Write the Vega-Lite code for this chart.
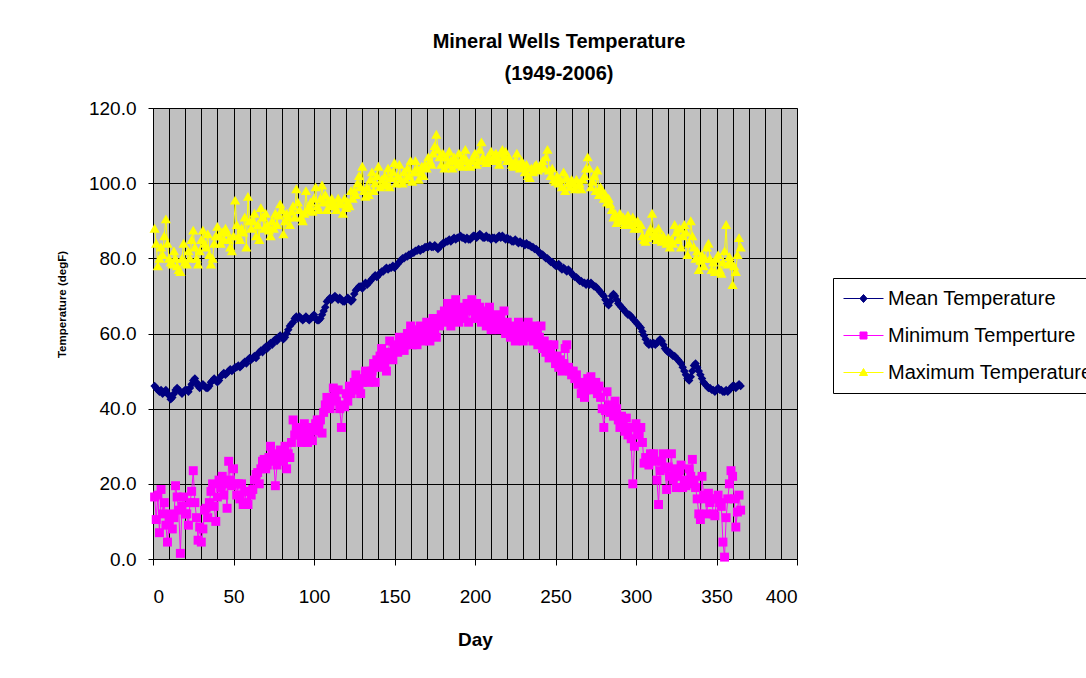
{
"$schema": "https://vega.github.io/schema/vega-lite/v6.json",
"width": 644, "height": 451,
"autosize": {"type": "none"},
"padding": {"left": 153, "top": 108, "right": 289, "bottom": 119},
"background": "white",
"title": {"text": ["Mineral Wells Temperature", "(1949-2006)"], "font": "Liberation Sans", "fontSize": 20, "fontWeight": "bold", "lineHeight": 32, "anchor": "middle", "offset": 15, "dx": 84, "color": "black"},
"data": {"values": [
{"d":1,"a":46,"n":16.5,"x":88},{"d":2,"a":45.5,"n":10.5,"x":84},{"d":3,"a":45,"n":17,"x":78},{"d":4,"a":44.5,"n":7,"x":80},{"d":5,"a":45,"n":18.5,"x":83},
{"d":6,"a":44,"n":12,"x":81},{"d":7,"a":44.5,"n":15,"x":86},{"d":8,"a":45,"n":9,"x":90.5},{"d":9,"a":44,"n":4.5,"x":84},{"d":10,"a":43.5,"n":10,"x":80},
{"d":11,"a":42.5,"n":12,"x":79},{"d":12,"a":43,"n":8,"x":78.5},{"d":13,"a":44,"n":11,"x":82},{"d":14,"a":45,"n":19.5,"x":80},{"d":15,"a":45.5,"n":16.5,"x":78},
{"d":16,"a":45,"n":13,"x":77},{"d":17,"a":44.5,"n":1.5,"x":76.5},{"d":18,"a":44,"n":14,"x":80},{"d":19,"a":44.5,"n":16.5,"x":84},{"d":20,"a":45,"n":12,"x":79},
{"d":21,"a":45,"n":12,"x":78.5},{"d":22,"a":44.5,"n":9,"x":82},{"d":23,"a":45.5,"n":15,"x":80},{"d":24,"a":46.5,"n":18,"x":85},{"d":25,"a":47.5,"n":23.5,"x":87.5},
{"d":26,"a":48,"n":15,"x":83},{"d":27,"a":47,"n":11,"x":80},{"d":28,"a":46,"n":5,"x":78.5},{"d":29,"a":45.5,"n":8.5,"x":82},{"d":30,"a":46,"n":4.5,"x":85},
{"d":31,"a":46.5,"n":8,"x":87.5},{"d":32,"a":46,"n":13,"x":84},{"d":33,"a":45.5,"n":13.5,"x":83},{"d":34,"a":45.5,"n":11,"x":86.5},{"d":35,"a":46,"n":15,"x":81},
{"d":36,"a":47,"n":18,"x":78.5},{"d":37,"a":47.5,"n":20,"x":80},{"d":38,"a":48,"n":14,"x":84},{"d":39,"a":47.5,"n":10,"x":86},{"d":40,"a":47,"n":16.5,"x":88.5},
{"d":41,"a":47.5,"n":21,"x":86},{"d":42,"a":48.5,"n":19,"x":84},{"d":43,"a":49,"n":22,"x":87},{"d":44,"a":49.5,"n":17,"x":85},{"d":45,"a":49,"n":20,"x":88},
{"d":46,"a":49.5,"n":13.5,"x":87},{"d":47,"a":50,"n":26,"x":85},{"d":48,"a":50.5,"n":21,"x":83},{"d":49,"a":50,"n":19.5,"x":82},{"d":50,"a":50.5,"n":24,"x":86},
{"d":51,"a":51,"n":20,"x":95.5},{"d":52,"a":51,"n":17,"x":89},{"d":53,"a":51.5,"n":20,"x":86},{"d":54,"a":51,"n":16,"x":85},{"d":55,"a":51.5,"n":20,"x":88},
{"d":56,"a":52,"n":14.5,"x":87},{"d":57,"a":52.5,"n":18,"x":91},{"d":58,"a":52,"n":15,"x":83},{"d":59,"a":53,"n":14.5,"x":96.5},{"d":60,"a":53.5,"n":18,"x":90},
{"d":61,"a":53,"n":17,"x":88},{"d":62,"a":53.5,"n":18.5,"x":90},{"d":63,"a":54,"n":21,"x":92},{"d":64,"a":53.5,"n":22.5,"x":86},{"d":65,"a":54.5,"n":23,"x":89},
{"d":66,"a":55,"n":20,"x":85},{"d":67,"a":55.5,"n":24,"x":93.5},{"d":68,"a":55,"n":26,"x":91},{"d":69,"a":56,"n":26.5,"x":88},{"d":70,"a":56.5,"n":24,"x":92},
{"d":71,"a":56,"n":25,"x":89},{"d":72,"a":57,"n":27,"x":87.5},{"d":73,"a":57.5,"n":30,"x":86},{"d":74,"a":57,"n":28,"x":90},{"d":75,"a":58,"n":26,"x":88},
{"d":76,"a":58.5,"n":19.5,"x":92},{"d":77,"a":58,"n":25,"x":89},{"d":78,"a":59,"n":27,"x":91.5},{"d":79,"a":59.5,"n":29,"x":94.5},{"d":80,"a":59,"n":28,"x":93},
{"d":81,"a":58.5,"n":26,"x":86.5},{"d":82,"a":59,"n":30,"x":90},{"d":83,"a":60,"n":24,"x":92},{"d":84,"a":61,"n":28,"x":91},{"d":85,"a":62,"n":27,"x":89},
{"d":86,"a":62.5,"n":31,"x":92.5},{"d":87,"a":63,"n":37,"x":94},{"d":88,"a":64,"n":33,"x":91},{"d":89,"a":64.5,"n":35,"x":98.5},{"d":90,"a":64,"n":33.5,"x":95},
{"d":91,"a":64.5,"n":33,"x":93},{"d":92,"a":64,"n":31,"x":91},{"d":93,"a":63.5,"n":35,"x":90},{"d":94,"a":64,"n":36,"x":92},{"d":95,"a":64.5,"n":33,"x":98},
{"d":96,"a":64,"n":31,"x":93},{"d":97,"a":63.5,"n":32,"x":94},{"d":98,"a":64,"n":35,"x":95},{"d":99,"a":64.5,"n":31.5,"x":92.5},{"d":100,"a":65,"n":34,"x":96},
{"d":101,"a":64,"n":36,"x":99},{"d":102,"a":63.5,"n":37,"x":94},{"d":103,"a":63.5,"n":35.5,"x":93},{"d":104,"a":64,"n":37,"x":96},{"d":105,"a":65,"n":33.5,"x":99.5},
{"d":106,"a":66,"n":39,"x":95},{"d":107,"a":67,"n":41,"x":97},{"d":108,"a":68.5,"n":43,"x":93},{"d":109,"a":69,"n":42,"x":95.5},{"d":110,"a":69.5,"n":40,"x":94},
{"d":111,"a":69,"n":43,"x":96},{"d":112,"a":69.5,"n":45.5,"x":95},{"d":113,"a":70,"n":44,"x":94},{"d":114,"a":69.5,"n":42,"x":93},{"d":115,"a":69,"n":45,"x":96},
{"d":116,"a":69.5,"n":40,"x":95},{"d":117,"a":69,"n":35,"x":94.5},{"d":118,"a":68.5,"n":41,"x":92},{"d":119,"a":68.5,"n":40.5,"x":96},{"d":120,"a":69,"n":44,"x":93.5},
{"d":121,"a":69.5,"n":42,"x":95},{"d":122,"a":69,"n":46,"x":94},{"d":123,"a":68.5,"n":44,"x":98},{"d":124,"a":69,"n":45,"x":96},{"d":125,"a":70.5,"n":47,"x":98},
{"d":126,"a":71.5,"n":49,"x":97},{"d":127,"a":72,"n":46,"x":100},{"d":128,"a":72.5,"n":45,"x":102},{"d":129,"a":72.5,"n":44,"x":99},{"d":130,"a":72,"n":47,"x":104.5},
{"d":131,"a":73,"n":48,"x":98},{"d":132,"a":73.5,"n":50,"x":96.5},{"d":133,"a":73,"n":49.5,"x":99},{"d":134,"a":73.5,"n":47,"x":97},{"d":135,"a":74,"n":49,"x":101},
{"d":136,"a":74.5,"n":50,"x":103},{"d":137,"a":75,"n":52,"x":98},{"d":138,"a":75.5,"n":47,"x":100},{"d":139,"a":75,"n":53,"x":102},{"d":140,"a":75.5,"n":51,"x":104.5},
{"d":141,"a":76,"n":54,"x":99},{"d":142,"a":76.5,"n":56,"x":101},{"d":143,"a":76.5,"n":55,"x":99.5},{"d":144,"a":77,"n":52,"x":102},{"d":145,"a":77.5,"n":50,"x":100},
{"d":146,"a":77,"n":54,"x":104},{"d":147,"a":77.5,"n":58,"x":99},{"d":148,"a":77.5,"n":55,"x":101.5},{"d":149,"a":78,"n":53,"x":103},{"d":150,"a":77.5,"n":56,"x":105.5},
{"d":151,"a":78,"n":57,"x":100},{"d":152,"a":78.5,"n":55,"x":102},{"d":153,"a":79,"n":59,"x":105},{"d":154,"a":79.5,"n":56,"x":101},{"d":155,"a":80,"n":58,"x":100},
{"d":156,"a":80,"n":55.5,"x":103},{"d":157,"a":80.5,"n":57,"x":101},{"d":158,"a":80.5,"n":60,"x":104},{"d":159,"a":81,"n":58,"x":102},{"d":160,"a":81,"n":62,"x":106},
{"d":161,"a":81.5,"n":57,"x":100.5},{"d":162,"a":81.5,"n":59,"x":103},{"d":163,"a":82,"n":61,"x":106},{"d":164,"a":82,"n":57,"x":104},{"d":165,"a":82.5,"n":60,"x":101},
{"d":166,"a":82,"n":62,"x":103},{"d":167,"a":82.5,"n":59,"x":104.5},{"d":168,"a":82.5,"n":58,"x":102},{"d":169,"a":83,"n":61,"x":105},{"d":170,"a":83,"n":63,"x":104},
{"d":171,"a":83,"n":60,"x":107},{"d":172,"a":83.5,"n":58,"x":106},{"d":173,"a":83,"n":62,"x":105},{"d":174,"a":83,"n":64,"x":108},{"d":175,"a":83.5,"n":61,"x":110},
{"d":176,"a":83,"n":59,"x":113},{"d":177,"a":82.5,"n":63,"x":109},{"d":178,"a":83,"n":62,"x":107},{"d":179,"a":83.5,"n":65,"x":105},{"d":180,"a":84,"n":64,"x":108},
{"d":181,"a":84,"n":66,"x":104},{"d":182,"a":84.5,"n":63,"x":107},{"d":183,"a":84.5,"n":68,"x":105},{"d":184,"a":85,"n":65,"x":108.5},{"d":185,"a":84.5,"n":62,"x":106},
{"d":186,"a":85,"n":67,"x":104},{"d":187,"a":85.5,"n":64,"x":107},{"d":188,"a":85,"n":69,"x":106},{"d":189,"a":85.5,"n":66,"x":105},{"d":190,"a":85.5,"n":63,"x":108},
{"d":191,"a":86,"n":67,"x":106},{"d":192,"a":85.5,"n":65,"x":104.5},{"d":193,"a":85.5,"n":64,"x":107},{"d":194,"a":85,"n":66,"x":109},{"d":195,"a":85.5,"n":68,"x":106},
{"d":196,"a":85,"n":63,"x":105},{"d":197,"a":85,"n":67,"x":104.5},{"d":198,"a":85.5,"n":69,"x":106},{"d":199,"a":86,"n":66,"x":107},{"d":200,"a":86,"n":64,"x":108},
{"d":201,"a":85.5,"n":68,"x":105},{"d":202,"a":86,"n":65,"x":106},{"d":203,"a":86.5,"n":67,"x":109},{"d":204,"a":86,"n":63,"x":111},{"d":205,"a":85.5,"n":66,"x":107},
{"d":206,"a":85.5,"n":64,"x":106},{"d":207,"a":86,"n":62,"x":105.5},{"d":208,"a":85.5,"n":65,"x":107},{"d":209,"a":85.5,"n":67,"x":106},{"d":210,"a":85,"n":61,"x":108.5},
{"d":211,"a":85.5,"n":64,"x":106},{"d":212,"a":85.5,"n":62,"x":107.5},{"d":213,"a":85,"n":65,"x":108},{"d":214,"a":85.5,"n":63,"x":106.5},{"d":215,"a":86,"n":61,"x":105},
{"d":216,"a":85.5,"n":64,"x":108},{"d":217,"a":86,"n":62,"x":109},{"d":218,"a":85.5,"n":66,"x":107},{"d":219,"a":85,"n":60,"x":108.5},{"d":220,"a":85.5,"n":63,"x":106},
{"d":221,"a":85,"n":61,"x":107},{"d":222,"a":85,"n":59,"x":106},{"d":223,"a":84.5,"n":62,"x":105},{"d":224,"a":84.5,"n":60,"x":104.5},{"d":225,"a":85,"n":58,"x":106},
{"d":226,"a":84.5,"n":61,"x":108},{"d":227,"a":84,"n":63,"x":105},{"d":228,"a":84.5,"n":59,"x":104},{"d":229,"a":84,"n":61,"x":106},{"d":230,"a":84,"n":58,"x":104.5},
{"d":231,"a":83.5,"n":62,"x":103},{"d":232,"a":84,"n":60,"x":105},{"d":233,"a":83.5,"n":63,"x":102},{"d":234,"a":83.5,"n":59,"x":101.5},{"d":235,"a":83,"n":61,"x":104},
{"d":236,"a":83,"n":58,"x":103},{"d":237,"a":82.5,"n":62,"x":104.5},{"d":238,"a":82.5,"n":60,"x":105},{"d":239,"a":82,"n":57,"x":103.5},{"d":240,"a":81.5,"n":59,"x":104},
{"d":241,"a":81,"n":62,"x":105},{"d":242,"a":81,"n":56,"x":106},{"d":243,"a":80.5,"n":58,"x":104},{"d":244,"a":80,"n":55,"x":107},{"d":245,"a":80,"n":57,"x":109},
{"d":246,"a":79.5,"n":53.5,"x":103.5},{"d":247,"a":79,"n":56,"x":102},{"d":248,"a":79,"n":54,"x":104},{"d":249,"a":78.5,"n":57,"x":101},{"d":250,"a":78,"n":52,"x":100.5},
{"d":251,"a":78,"n":54,"x":102},{"d":252,"a":78.5,"n":51,"x":100},{"d":253,"a":77.5,"n":53,"x":101},{"d":254,"a":77,"n":50,"x":99},{"d":255,"a":77.5,"n":52,"x":103},
{"d":256,"a":77,"n":56,"x":98},{"d":257,"a":76.5,"n":57,"x":101.5},{"d":258,"a":77,"n":51,"x":100},{"d":259,"a":76.5,"n":50,"x":99},{"d":260,"a":76,"n":49,"x":101},
{"d":261,"a":75.5,"n":50,"x":100},{"d":262,"a":75,"n":48,"x":98.5},{"d":263,"a":75,"n":49,"x":101},{"d":264,"a":74.5,"n":46.5,"x":99.5},{"d":265,"a":74,"n":47,"x":100},
{"d":266,"a":74,"n":44,"x":98.5},{"d":267,"a":73.5,"n":46,"x":101},{"d":268,"a":73.5,"n":43,"x":102},{"d":269,"a":73,"n":45,"x":104},{"d":270,"a":73.5,"n":48,"x":107},
{"d":271,"a":73,"n":47,"x":104},{"d":272,"a":73.5,"n":48.5,"x":99},{"d":273,"a":73,"n":45,"x":100.5},{"d":274,"a":72.5,"n":46,"x":102},{"d":275,"a":72.5,"n":47,"x":98},
{"d":276,"a":72,"n":44,"x":103.5},{"d":277,"a":71.5,"n":46,"x":97},{"d":278,"a":71,"n":43,"x":99},{"d":279,"a":70.5,"n":40,"x":98},{"d":280,"a":70,"n":35,"x":96},
{"d":281,"a":69,"n":39.5,"x":97},{"d":282,"a":68,"n":44.5,"x":95},{"d":283,"a":67.5,"n":41,"x":96},{"d":284,"a":68.5,"n":39,"x":94.5},{"d":285,"a":70,"n":40,"x":93},
{"d":286,"a":70.5,"n":38,"x":91},{"d":287,"a":70,"n":42,"x":92},{"d":288,"a":69,"n":40,"x":89.5},{"d":289,"a":68,"n":37,"x":90.5},{"d":290,"a":67.5,"n":35,"x":92},
{"d":291,"a":67,"n":38,"x":90},{"d":292,"a":66.5,"n":36,"x":91},{"d":293,"a":66,"n":34,"x":89},{"d":294,"a":65.5,"n":37.5,"x":90.5},{"d":295,"a":65,"n":33,"x":91.5},
{"d":296,"a":65,"n":35,"x":90},{"d":297,"a":64.5,"n":32,"x":89},{"d":298,"a":64,"n":20,"x":91},{"d":299,"a":63.5,"n":30,"x":88},{"d":300,"a":63,"n":36,"x":89.5},
{"d":301,"a":62.5,"n":34,"x":90},{"d":302,"a":62,"n":33,"x":88},{"d":303,"a":61.5,"n":35,"x":89},{"d":304,"a":60.5,"n":31,"x":86},{"d":305,"a":59.5,"n":25.5,"x":85},
{"d":306,"a":58.5,"n":27,"x":84.5},{"d":307,"a":57.5,"n":26,"x":85.5},{"d":308,"a":57,"n":25,"x":87},{"d":309,"a":57.5,"n":28,"x":88},{"d":310,"a":57,"n":27,"x":92},
{"d":311,"a":57.5,"n":28,"x":86},{"d":312,"a":57,"n":26,"x":87},{"d":313,"a":57.5,"n":21,"x":85},{"d":314,"a":58,"n":14.5,"x":88},{"d":315,"a":58.5,"n":23.5,"x":86},
{"d":316,"a":58,"n":26,"x":84.5},{"d":317,"a":57,"n":28,"x":86},{"d":318,"a":56,"n":24,"x":85},{"d":319,"a":55.5,"n":18.5,"x":84},{"d":320,"a":55,"n":24.5,"x":85.5},
{"d":321,"a":55,"n":22,"x":83},{"d":322,"a":54.5,"n":28,"x":85},{"d":323,"a":54,"n":21,"x":84},{"d":324,"a":54,"n":24,"x":89},{"d":325,"a":53.5,"n":19,"x":87},
{"d":326,"a":53,"n":22,"x":85},{"d":327,"a":52.5,"n":23.5,"x":88},{"d":328,"a":52,"n":25,"x":83},{"d":329,"a":51,"n":19,"x":86},{"d":330,"a":50,"n":21,"x":89},
{"d":331,"a":49,"n":19.5,"x":87},{"d":332,"a":48,"n":20,"x":81},{"d":333,"a":47.5,"n":24,"x":84},{"d":334,"a":48.5,"n":22,"x":90},{"d":335,"a":50,"n":26.5,"x":86},
{"d":336,"a":51.5,"n":21,"x":83},{"d":337,"a":52,"n":19,"x":80},{"d":338,"a":51,"n":16,"x":82},{"d":339,"a":50,"n":12,"x":77},{"d":340,"a":49,"n":10.5,"x":79.5},
{"d":341,"a":48,"n":22,"x":81},{"d":342,"a":47,"n":17,"x":78},{"d":343,"a":46.5,"n":16,"x":80},{"d":344,"a":46,"n":12,"x":83},{"d":345,"a":45.5,"n":17.5,"x":84},
{"d":346,"a":45.5,"n":15,"x":80},{"d":347,"a":45,"n":16,"x":77},{"d":348,"a":45,"n":12,"x":79},{"d":349,"a":44.5,"n":11.5,"x":76.5},{"d":350,"a":45,"n":16,"x":80},
{"d":351,"a":45.5,"n":17,"x":81},{"d":352,"a":45,"n":15,"x":77},{"d":353,"a":45,"n":14,"x":76},{"d":354,"a":44.5,"n":4.5,"x":79},{"d":355,"a":44.5,"n":0.5,"x":82},
{"d":356,"a":45,"n":11,"x":89},{"d":357,"a":44.5,"n":16,"x":78.5},{"d":358,"a":45,"n":20,"x":80.5},{"d":359,"a":45.5,"n":23.5,"x":79},{"d":360,"a":46,"n":22,"x":73},
{"d":361,"a":46,"n":16,"x":78},{"d":362,"a":45.5,"n":8.5,"x":76.5},{"d":363,"a":46,"n":12.5,"x":81},{"d":364,"a":46.5,"n":17,"x":85.5},{"d":365,"a":46,"n":13,"x":83}
]},
"transform": [{"fold": ["a", "n", "x"], "as": ["s", "v"]}],
"encoding": {
  "x": {"field": "d", "type": "quantitative", "scale": {"domain": [0, 400], "nice": false},
    "axis": {"values": [0,10,20,30,40,50,60,70,80,90,100,110,120,130,140,150,160,170,180,190,200,210,220,230,240,250,260,270,280,290,300,310,320,330,340,350,360,370,380,390,400],
      "format": "d", "grid": true, "gridColor": "black", "gridWidth": 1, "gridOpacity": 1,
      "domainColor": "black", "domainWidth": 1, "tickSize": 6, "tickWidth": 1,
      "tickColor": {"condition": {"test": "datum.value % 50 === 0", "value": "black"}, "value": "transparent"},
      "labelExpr": "datum.value % 50 === 0 ? datum.label : ''", "labelOverlap": false,
      "labelFont": "Liberation Sans", "labelFontSize": 19, "labelColor": "black", "labelPadding": 22,
      "title": "Day", "titleFont": "Liberation Sans", "titleFontSize": 19, "titleFontWeight": "bold", "titleColor": "black", "titlePadding": 24}},
  "y": {"field": "v", "type": "quantitative", "scale": {"domain": [0, 120], "nice": false},
    "axis": {"values": [0, 20, 40, 60, 80, 100, 120], "format": ".1f", "grid": true, "gridColor": "black", "gridWidth": 1, "gridOpacity": 1,
      "domainColor": "black", "tickColor": "black", "tickSize": 5,
      "labelFont": "Liberation Sans", "labelFontSize": 19, "labelColor": "black", "labelPadding": 12,
      "title": "Temperature (degF)", "titleFont": "Liberation Sans", "titleFontSize": 11.5, "titleFontWeight": "bold", "titleColor": "black", "titlePadding": 21, "titleY": 196}},
  "color": {"field": "s", "type": "nominal", "scale": {"domain": ["a", "n", "x"], "range": ["#000080", "#FF00FF", "#FFFF00"]},
    "legend": {"orient": "none", "legendX": 680, "legendY": 170, "title": null,
      "strokeColor": "black", "fillColor": "white", "padding": 10,
      "labelFont": "Liberation Sans", "labelFontSize": 20, "labelColor": "black", "labelOffset": 24, "labelLimit": 400,
      "symbolSize": 400, "rowPadding": 16, "symbolStrokeWidth": 1, "symbolOpacity": 1,
      "labelExpr": "datum.value === 'a' ? 'Mean Temperature' : datum.value === 'n' ? 'Minimum Temperture' : 'Maximum Temperature'",
      "encode": {"symbols": {"update": {
        "shape": {"signal": "datum.value === 'a' ? 'M-1,0L3,0M1,-0.4L1.36,0L1,0.4L0.64,0Z' : datum.value === 'n' ? 'M-1,0L3,0M0.65,-0.35L1.35,-0.35L1.35,0.35L0.65,0.35Z' : 'M-1,0L3,0M1,-0.4L1.4,0.3L0.6,0.3Z'"},
        "fill": {"scale": "color", "field": "value"},
        "stroke": {"scale": "color", "field": "value"}}}}}}
},
"layer": [
  {"mark": {"type": "line", "strokeWidth": 1}},
  {"transform": [{"filter": "datum.s === 'a'"}], "mark": {"type": "point", "shape": "diamond", "size": 72, "filled": true, "opacity": 1}},
  {"transform": [{"filter": "datum.s === 'n'"}], "mark": {"type": "point", "shape": "square", "size": 80, "filled": true, "opacity": 1}},
  {"transform": [{"filter": "datum.s === 'x'"}], "mark": {"type": "point", "shape": "triangle-up", "size": 105, "filled": true, "opacity": 1}}
],
"config": {"view": {"fill": "#C0C0C0", "stroke": "#808080", "strokeWidth": 1}}
}
